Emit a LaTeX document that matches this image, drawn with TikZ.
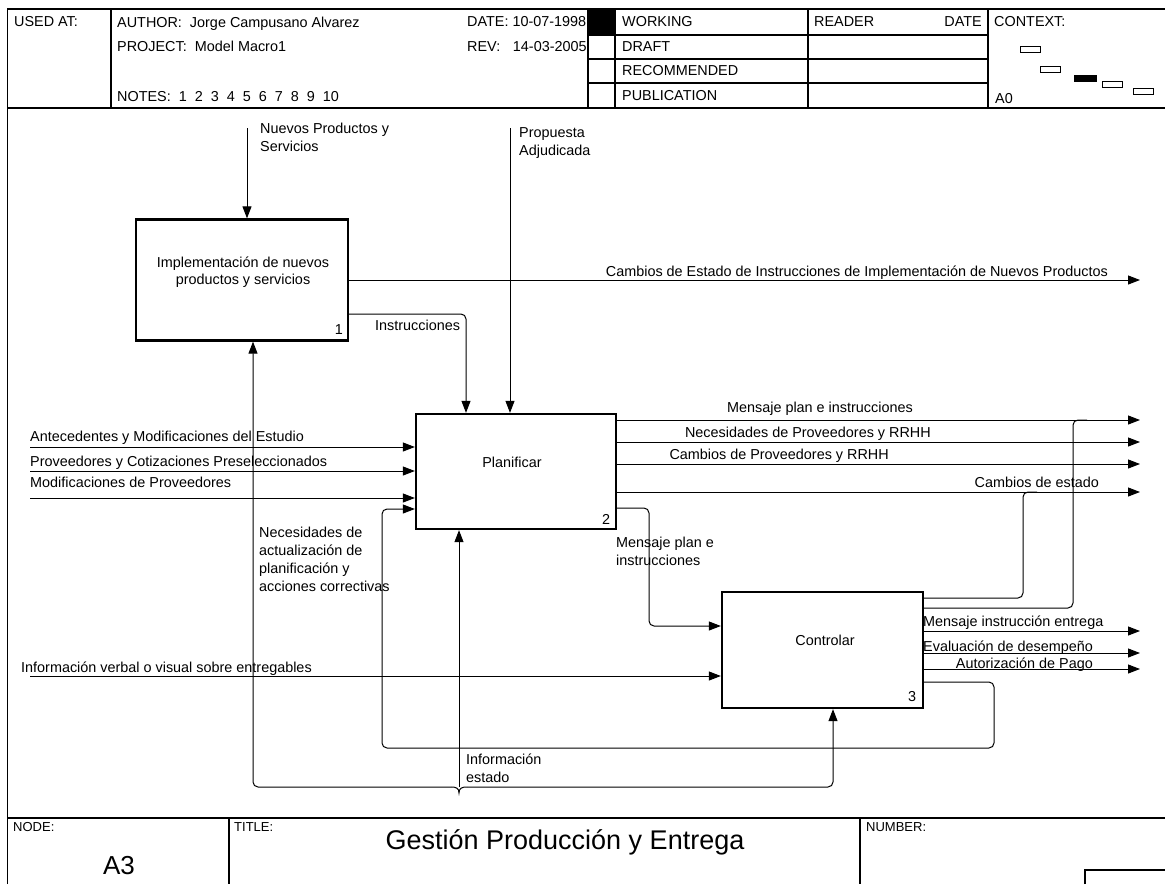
\documentclass[tikz,border=0pt]{standalone}
\usepackage{fontspec}
\setmainfont{Liberation Sans}
\usetikzlibrary{arrows.meta}
\begin{document}
\begin{tikzpicture}[x=1pt,y=-1pt,
  lbl/.style={inner sep=0pt, font=\fontsize{14.4}{18}\selectfont, align=left},
  hdr/.style={lbl, anchor=north west},
  foot/.style={inner sep=0pt, font=\fontsize{13}{16}\selectfont, anchor=north west},
  act/.style={draw, line width=2.3pt, inner sep=0pt},
  flow/.style={line width=1pt, rounded corners=5pt},
  arr/.style={flow, -{Triangle[length=12pt,width=9pt]}},
  rule/.style={line width=1.3pt},
  ctx/.style={draw, line width=0.8pt}
]
\useasboundingbox (0,0) rectangle (1165,884);

% ---------- sheet frame ----------
\draw[rule] (7.5,884) -- (7.5,9) -- (1165,9);
\draw[rule] (7.5,108) -- (1165,108);
\draw[rule] (7.5,818) -- (1165,818);
\foreach \xx in {111,588,615,808,988} \draw[rule] (\xx,9) -- (\xx,108);
\foreach \yy in {35,59,83} \draw[rule] (588,\yy) -- (988,\yy);
\fill (588,9) rectangle (615,35);
\draw[rule] (229,818) -- (229,884);
\draw[rule] (860,818) -- (860,884);
\draw[rule] (1085,884) -- (1085,870) -- (1165,870);

% header texts
\node[hdr] (usedat) at (14,16.5) {USED AT:};
\node[hdr] (author) at (117,16.5) {AUTHOR:\hspace{4pt} Jorge Campusano Alvarez};
\node[hdr] (project) at (117,41) {PROJECT:\hspace{4pt} Model Macro1};
\node[hdr] (notes) at (117,91.5) {NOTES:\hspace{4pt} 1\hspace{4pt} 2\hspace{4pt} 3\hspace{4pt} 4\hspace{4pt} 5\hspace{4pt} 6\hspace{4pt} 7\hspace{4pt} 8\hspace{4pt} 9\hspace{4pt} 10};
\node[hdr] (date) at (467,16.5) {DATE: 10-07-1998};
\node[hdr] (rev) at (467,41) {REV:\hspace{12.7pt}14-03-2005};
\node[hdr] (working) at (622,16.5) {WORKING};
\node[hdr] (draft) at (622,41) {DRAFT};
\node[hdr] (recom) at (622,65.5) {RECOMMENDED};
\node[hdr] (public) at (622,90) {PUBLICATION};
\node[hdr] (reader) at (814,16.5) {READER};
\node[lbl, anchor=north east] (rdate) at (982,16.5) {DATE};
\node[hdr] (context) at (994,16.5) {CONTEXT:};
\node[hdr] (a0) at (995,93) {A0};

% context thumbnails
\draw[ctx] (1020,46.5) rectangle (1040,52);
\draw[ctx] (1040,66.5) rectangle (1060,72);
\fill (1074,74.5) rectangle (1097,82);
\draw[ctx] (1102,81) rectangle (1122,87);
\draw[ctx] (1133,88) rectangle (1153,94);

% footer texts
\node[foot] (nodelbl) at (13,822) {NODE:};
\node[inner sep=0pt, font=\fontsize{26}{30}\selectfont] (nodeid) at (119,866) {A3};
\node[foot] (titlelbl) at (234,822) {TITLE:};
\node[inner sep=0pt, font=\fontsize{27}{30}\selectfont] (title) at (565,842) {Gestión Producción y Entrega};
\node[foot] (numberlbl) at (866,822) {NUMBER:};

% ---------- activity boxes ----------
\node[act, minimum width=212pt, minimum height=121pt] (impl) at (242,280) {};
\node[act, minimum width=200pt, minimum height=115pt] (plan) at (516,471.5) {};
\node[act, minimum width=201pt, minimum height=116pt] (ctrl) at (822.5,650) {};

\node[lbl, align=center, anchor=north, font=\fontsize{14.4}{16.8}\selectfont] (implT) at (243,256.5) {Implementación de nuevos\\productos y servicios};
\node[lbl, anchor=north] (planT) at (512,456.5) {Planificar};
\node[lbl, anchor=north] (ctrlT) at (825,634.5) {Controlar};
\node[lbl] (implN) at (339,330) {1};
\node[lbl] (planN) at (606,519) {2};
\node[lbl] (ctrlN) at (912,697) {3};

% ---------- free ends and bends ----------
\coordinate (srcNP) at (247,128);
\coordinate (srcPA) at (510,128);
\coordinate (snkCE) at (1140,280);
\coordinate (bendI) at (466,314);
\coordinate (snkM) at (1140,420);
\coordinate (snkN) at (1140,442);
\coordinate (snkC) at (1140,464);
\coordinate (snkE) at (1140,492);
\coordinate (srcA) at (30,447);
\coordinate (srcP) at (30,471);
\coordinate (srcMod) at (30,498);
\coordinate (srcIV) at (30,676);
\coordinate (snkMI) at (1140,631);
\coordinate (snkEv) at (1140,653);
\coordinate (snkAu) at (1140,669);
\coordinate (pm1) at (649,508);
\coordinate (pm2) at (649,626);
\coordinate (fb1) at (994,682);
\coordinate (fb2) at (994,748);
\coordinate (fb3) at (382,748);
\coordinate (fb4) at (382,509);
\coordinate (brA) at (1023,598);
\coordinate (brAt) at (1037,492);
\coordinate (brB) at (1073,608);
\coordinate (brBt) at (1087,420);
\coordinate (joinS) at (459,787);
\coordinate (cuspL) at (451,787);
\coordinate (cuspR) at (467,787);
\coordinate (cuspT) at (459,793);
\coordinate (isL) at (253,787);
\coordinate (isR) at (833,787);

% ---------- connectors ----------
\draw[arr] (srcNP) -- (srcNP |- impl.north);
\draw[arr] (srcPA) -- (srcPA |- plan.north);
\draw[arr] (impl.east |- snkCE) -- (snkCE);
\draw[arr] (impl.east |- bendI) -- (bendI) -- (bendI |- plan.north);
\foreach \cc in {snkM,snkN,snkC,snkE} \draw[arr] (plan.east |- \cc) -- (\cc);
\foreach \cc in {srcA,srcP,srcMod} \draw[arr] (\cc) -- (\cc -| plan.west);
\draw[arr] (srcIV) -- (srcIV -| ctrl.west);
\foreach \cc in {snkMI,snkEv,snkAu} \draw[arr] (ctrl.east |- \cc) -- (\cc);
\draw[arr] (plan.east |- pm1) -- (pm1) -- (pm2) -- (pm2 -| ctrl.west);
\draw[arr] (ctrl.east |- fb1) -- (fb1) -- (fb2) -- (fb3) -- (fb4) -- (fb4 -| plan.west);
\draw[flow] (ctrl.east |- brA) -- (brA) -- (brA |- brAt) -- (brAt);
\draw[flow] (ctrl.east |- brB) -- (brB) -- (brB |- brBt) -- (brBt);
\draw[arr] (joinS) -- (joinS |- plan.south);
\draw[arr] (cuspL) -- (isL) -- (isL |- impl.south);
\draw[arr] (cuspR) -- (isR) -- (isR |- ctrl.south);
\draw[line width=1pt] (cuspL) .. controls (456,787) and (459,788) .. (cuspT)
  .. controls (459,788) and (462,787) .. (cuspR);

% ---------- connector labels ----------
\node[hdr] (lNP) at (260,122.5) {Nuevos Productos y\\Servicios};
\node[hdr] (lPA) at (519,127.5) {Propuesta\\Adjudicada};
\node[lbl, anchor=north east] (lCE) at (1108,265.5) {Cambios de Estado de Instrucciones de Implementación de Nuevos Productos};
\node[hdr] (lI) at (375,320) {Instrucciones};
\node[lbl, anchor=north east] (lM) at (913,401.5) {Mensaje plan e instrucciones};
\node[lbl, anchor=north east] (lN) at (931,426.5) {Necesidades de Proveedores y RRHH};
\node[lbl, anchor=north east] (lC) at (889,448.5) {Cambios de Proveedores y RRHH};
\node[lbl, anchor=north east] (lE) at (1099,476.5) {Cambios de estado};
\node[hdr] (lA) at (30,430.5) {Antecedentes y Modificaciones del Estudio};
\node[hdr] (lP) at (30,455.5) {Proveedores y Cotizaciones Preseleccionados};
\node[hdr] (lMod) at (30,476.5) {Modificaciones de Proveedores};
\node[hdr] (lNec) at (259,526.5) {Necesidades de\\actualización de\\planificación y\\acciones correctivas};
\node[hdr] (lMP) at (616,536.5) {Mensaje plan e\\instrucciones};
\node[hdr] (lIV) at (21,661.5) {Información verbal o visual sobre entregables};
\node[hdr] (lMI) at (923,615.5) {Mensaje instrucción entrega};
\node[hdr] (lEv) at (923,640.5) {Evaluación de desempeño};
\node[lbl, anchor=north east] (lAu) at (1093,657.5) {Autorización de Pago};
\node[hdr] (lIE) at (466,753.5) {Información\\estado};
\end{tikzpicture}
\end{document}
